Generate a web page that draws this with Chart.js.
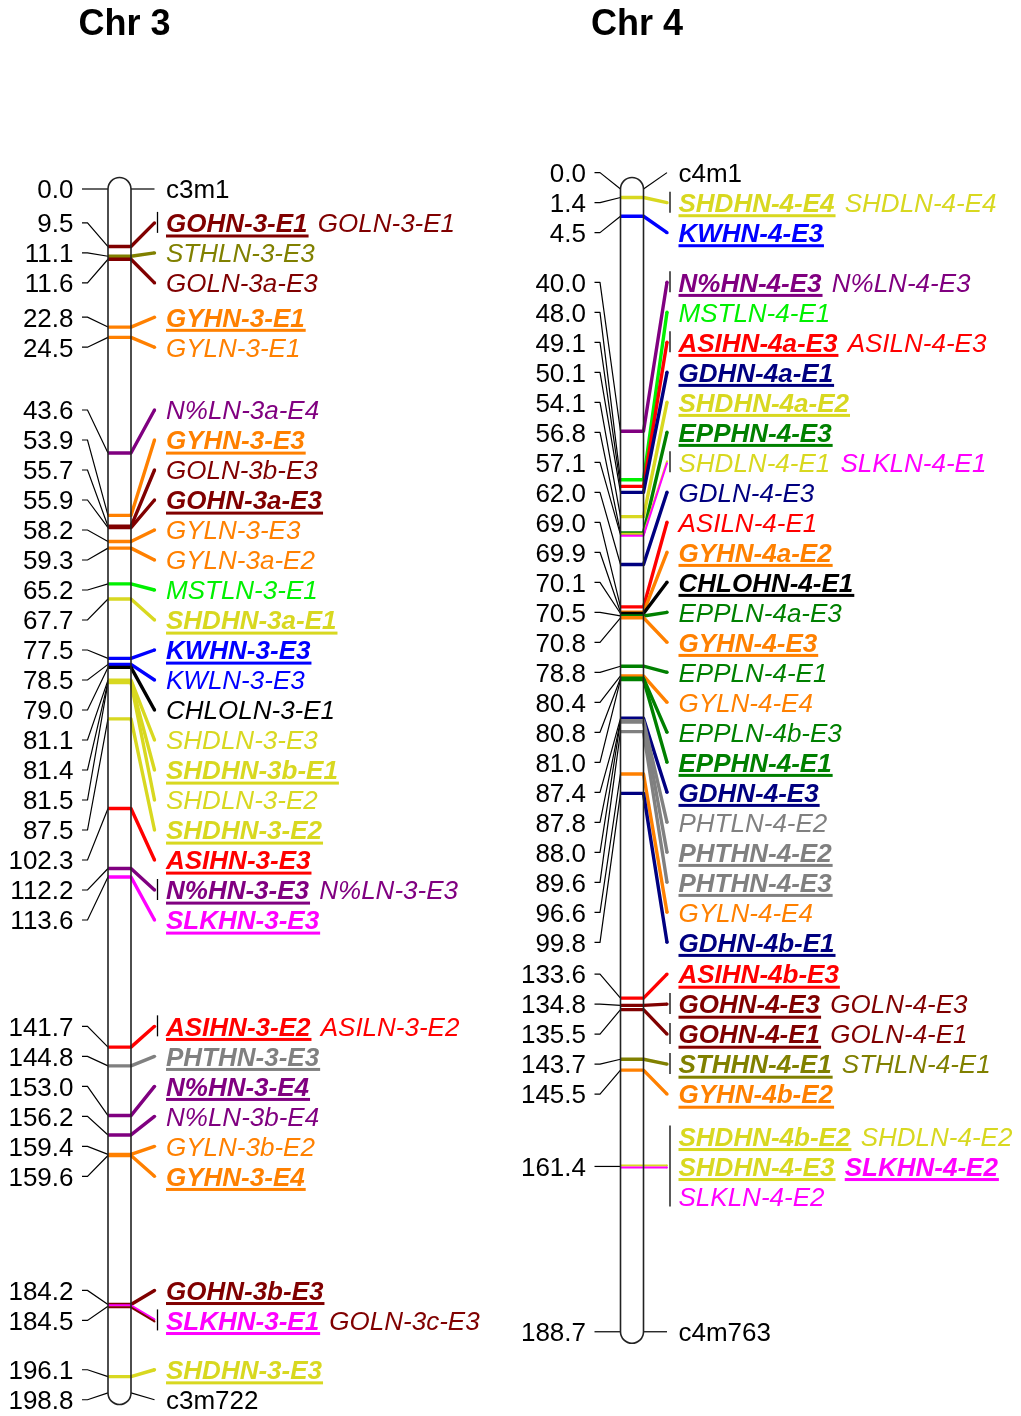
<!DOCTYPE html>
<html lang="en">
<head>
  <meta charset="UTF-8">
  <title>QTL map - Chr 3 and Chr 4</title>
  <script src="https://cdn.jsdelivr.net/npm/chart.js@4.4.1/dist/chart.umd.min.js"></script>
  <style>
    body { margin: 0; background: #fff; }
    canvas { display: block; }
  </style>
</head>
<body>
  <canvas id="mapChart" width="1021" height="1416"></canvas>

  <script>
    // Chromosome titles
    const chromNames = ['Chr 3', 'Chr 4'];

    // Chr 3: positions (cM) and the names shown on each row ('/' splits extra rows)
    const chr3Pos = [0.0, 9.5, 11.1, 11.6, 22.8, 24.5, 43.6, 53.9, 55.7, 55.9, 58.2, 59.3, 65.2, 67.7,
      77.5, 78.5, 79.0, 81.1, 81.4, 81.5, 87.5, 102.3, 112.2, 113.6, 141.7, 144.8, 153.0, 156.2,
      159.4, 159.6, 184.2, 184.5, 196.1, 198.8];
    const chr3Names = ['c3m1', 'GOHN-3-E1 GOLN-3-E1', 'STHLN-3-E3', 'GOLN-3a-E3', 'GYHN-3-E1', 'GYLN-3-E1',
      'N%LN-3a-E4', 'GYHN-3-E3', 'GOLN-3b-E3', 'GOHN-3a-E3', 'GYLN-3-E3', 'GYLN-3a-E2', 'MSTLN-3-E1',
      'SHDHN-3a-E1', 'KWHN-3-E3', 'KWLN-3-E3', 'CHLOLN-3-E1', 'SHDLN-3-E3', 'SHDHN-3b-E1', 'SHDLN-3-E2',
      'SHDHN-3-E2', 'ASIHN-3-E3', 'N%HN-3-E3 N%LN-3-E3', 'SLKHN-3-E3', 'ASIHN-3-E2 ASILN-3-E2',
      'PHTHN-3-E3', 'N%HN-3-E4', 'N%LN-3b-E4', 'GYLN-3b-E2', 'GYHN-3-E4', 'GOHN-3b-E3',
      'SLKHN-3-E1 GOLN-3c-E3', 'SHDHN-3-E3', 'c3m722'];

    // Chr 4
    const chr4Pos = [0.0, 1.4, 4.5, 40.0, 48.0, 49.1, 50.1, 54.1, 56.8, 57.1, 62.0, 69.0, 69.9, 70.1,
      70.5, 70.8, 78.8, 80.4, 80.8, 81.0, 87.4, 87.8, 88.0, 89.6, 96.6, 99.8, 133.6, 134.8, 135.5,
      143.7, 145.5, 161.4, 188.7];
    const chr4Names = ['c4m1', 'SHDHN-4-E4 SHDLN-4-E4', 'KWHN-4-E3', 'N%HN-4-E3 N%LN-4-E3', 'MSTLN-4-E1',
      'ASIHN-4a-E3 ASILN-4-E3', 'GDHN-4a-E1', 'SHDHN-4a-E2', 'EPPHN-4-E3', 'SHDLN-4-E1 SLKLN-4-E1',
      'GDLN-4-E3', 'ASILN-4-E1', 'GYHN-4a-E2', 'CHLOHN-4-E1', 'EPPLN-4a-E3', 'GYHN-4-E3', 'EPPLN-4-E1',
      'GYLN-4-E4', 'EPPLN-4b-E3', 'EPPHN-4-E1', 'GDHN-4-E3', 'PHTLN-4-E2', 'PHTHN-4-E2', 'PHTHN-4-E3',
      'GYLN-4-E4', 'GDHN-4b-E1', 'ASIHN-4b-E3', 'GOHN-4-E3 GOLN-4-E3', 'GOHN-4-E1 GOLN-4-E1',
      'STHHN-4-E1 STHLN-4-E1', 'GYHN-4b-E2',
      'SHDHN-4b-E2 SHDLN-4-E2/SHDHN-4-E3 SLKHN-4-E2/SLKLN-4-E2', 'c4m763'];

    // trait colours
    const traitColors = {
      'GO': '#800000', 'STH': '#808000', 'GY': '#FF8000', 'N%': '#800080', 'MST': '#00F000',
      'SHD': '#D8D820', 'KW': '#0000FF', 'CHLO': '#000000', 'ASI': '#FF0000', 'SLK': '#FF00FF',
      'PHT': '#808080', 'GD': '#000080', 'EPP': '#008000'
    };

    // layout
    const ROW = 30;                     // label row spacing (px)
    const MIN_GAP = 27;                 // groups closer than this get merged
    const FONT = '"Liberation Sans", Arial, sans-serif';
    const chromX = [119.5, 632];        // bar centres, x axis units
    const HALF = 11.5;                  // half bar width
    const PX_PER_CM = 6.056;
    const TOP_PX = 189;

    const chroms = [
      { pos: chr3Pos, names: chr3Names },
      { pos: chr4Pos, names: chr4Names }
    ];

    function traitOf(name) {
      const m = name.match(/^(.+?)(HN|LN)-/);
      return m ? m[1] : null;
    }

    // spread label rows: each group is centred between its first and last wanted position,
    // overlapping groups are merged pass by pass
    function layoutRows(desired, nrows) {
      const place = b => {
        let n = 0;
        for (let i = b.first; i <= b.last; i++) n += nrows[i];
        const c = (desired[b.first] + desired[b.last]) / 2;
        b.top = c - (n - 1) / 2 * ROW;
        b.bottom = b.top + (n - 1) * ROW;
        return b;
      };
      let blocks = desired.map((d, i) => place({ first: i, last: i }));
      let changed = true;
      while (changed) {
        changed = false;
        const next = [];
        let cur = { first: blocks[0].first, last: blocks[0].last };
        for (let i = 1; i < blocks.length; i++) {
          if (blocks[i].top - blocks[i - 1].bottom < MIN_GAP) {
            cur.last = blocks[i].last;
            changed = true;
          } else {
            next.push(cur);
            cur = { first: blocks[i].first, last: blocks[i].last };
          }
        }
        next.push(cur);
        blocks = next.map(place);
      }
      const rows = [];
      blocks.forEach(b => {
        let y = b.top;
        for (let i = b.first; i <= b.last; i++) {
          rows[i] = { first: y, last: y + (nrows[i] - 1) * ROW, mid: y + (nrows[i] - 1) / 2 * ROW };
          y += nrows[i] * ROW;
        }
      });
      return rows;
    }

    const mapPlugin = {
      id: 'geneticMap',
      afterDatasetsDraw(chart) {
        const ctx = chart.ctx;
        const xs = chart.scales.x, ys = chart.scales.y;
        ctx.save();

        chroms.forEach((chrom, c) => {
          const cx = xs.getPixelForValue(chromX[c]);
          const xL = cx - HALF, xR = cx + HALF;
          const py = chrom.pos.map(p => ys.getPixelForValue(p));
          const rowLines = chrom.names.map(s => s.split('/'));
          const rows = layoutRows(py, rowLines.map(r => r.length));
          const y0 = py[0], y1 = py[py.length - 1];

          // title
          ctx.fillStyle = '#000';
          ctx.font = 'bold 36px ' + FONT;
          ctx.textAlign = 'center';
          ctx.textBaseline = 'alphabetic';
          ctx.fillText(chromNames[c], cx + 5, 35);

          // left connectors
          ctx.strokeStyle = '#000';
          ctx.lineWidth = 1.2;
          ctx.lineCap = 'butt';
          chrom.pos.forEach((p, i) => {
            ctx.beginPath();
            ctx.moveTo(cx - 37.5, rows[i].mid);
            ctx.lineTo(cx - 32, rows[i].mid);
            ctx.lineTo(xL, py[i]);
            ctx.stroke();
          });

          // bar fill
          const barPath = () => {
            ctx.beginPath();
            ctx.moveTo(xL, y1);
            ctx.lineTo(xL, y0);
            ctx.arc(cx, y0, HALF, Math.PI, 0);
            ctx.lineTo(xR, y1);
            ctx.arc(cx, y1, HALF, 0, Math.PI);
            ctx.closePath();
          };
          ctx.fillStyle = '#fff';
          barPath();
          ctx.fill();

          // marks in the bar and right connectors
          chrom.pos.forEach((p, i) => {
            const names = rowLines[i].join(' ').split(' ');
            const endY = rows[i].mid;
            if (!traitOf(names[0])) {
              ctx.strokeStyle = '#000';
              ctx.lineWidth = 1.2;
              ctx.beginPath();
              ctx.moveTo(xR, py[i]);
              ctx.lineTo(cx + 35, endY);
              ctx.stroke();
              return;
            }
            const colors = [];
            names.forEach(n => {
              const col = traitColors[traitOf(n)];
              if (!colors.includes(col)) colors.push(col);
            });
            const k = colors.length;
            const lw = k > 1 ? 2 : 3.4;
            colors.forEach((col, j) => {
              const off = (j - (k - 1) / 2) * 2;
              ctx.strokeStyle = col;
              ctx.fillStyle = col;
              ctx.lineWidth = lw;
              ctx.lineJoin = 'round';
              ctx.beginPath();
              ctx.moveTo(xL, py[i] + off);
              ctx.lineTo(xR, py[i] + off);
              ctx.lineTo(cx + 35, endY + off);
              ctx.stroke();
              ctx.beginPath();
              ctx.arc(cx + 35, endY + off, lw / 2, 0, Math.PI * 2);
              ctx.fill();
            });
            if (names.length > 1) {
              ctx.strokeStyle = '#000';
              ctx.lineWidth = 1.3;
              ctx.beginPath();
              ctx.moveTo(cx + 38, rows[i].first - 11);
              ctx.lineTo(cx + 38, rows[i].last + 10);
              ctx.stroke();
            }
          });

          // bar outline
          ctx.strokeStyle = '#222';
          ctx.lineWidth = 1.6;
          barPath();
          ctx.stroke();

          // left position labels
          ctx.fillStyle = '#000';
          ctx.font = '26px ' + FONT;
          ctx.textAlign = 'right';
          chrom.pos.forEach((p, i) => {
            ctx.fillText(p.toFixed(1), cx - 46, rows[i].mid + 9.3);
          });

          // right names
          ctx.textAlign = 'left';
          rowLines.forEach((lines, i) => {
            lines.forEach((line, r) => {
              const base = rows[i].first + r * ROW + 9.3;
              let tx = cx + 46.5;
              line.split(' ').forEach(name => {
                const trait = traitOf(name);
                const high = /HN-/.test(name);
                ctx.font = (trait ? (high ? 'italic bold ' : 'italic ') : '') + '26px ' + FONT;
                ctx.fillStyle = trait ? traitColors[trait] : '#000';
                ctx.fillText(name, tx, base);
                const w = ctx.measureText(name).width;
                if (trait && high) ctx.fillRect(tx, base + 2.3, w + 1, 3);
                tx += w + ctx.measureText(' ').width + 3;
              });
            });
          });
        });

        ctx.restore();
      }
    };

    const H = 1416;
    const yMin = -TOP_PX / PX_PER_CM;
    const yMax = yMin + H / PX_PER_CM;

    new Chart(document.getElementById('mapChart'), {
      type: 'scatter',
      data: { datasets: [] },
      options: {
        responsive: false,
        animation: false,
        events: [],
        layout: { padding: 0 },
        plugins: { legend: { display: false }, tooltip: { enabled: false } },
        scales: {
          x: { type: 'linear', min: 0, max: 1021, display: false },
          y: { type: 'linear', reverse: true, min: yMin, max: yMax, display: false }
        }
      },
      plugins: [mapPlugin]
    });
  </script>
</body>
</html>
